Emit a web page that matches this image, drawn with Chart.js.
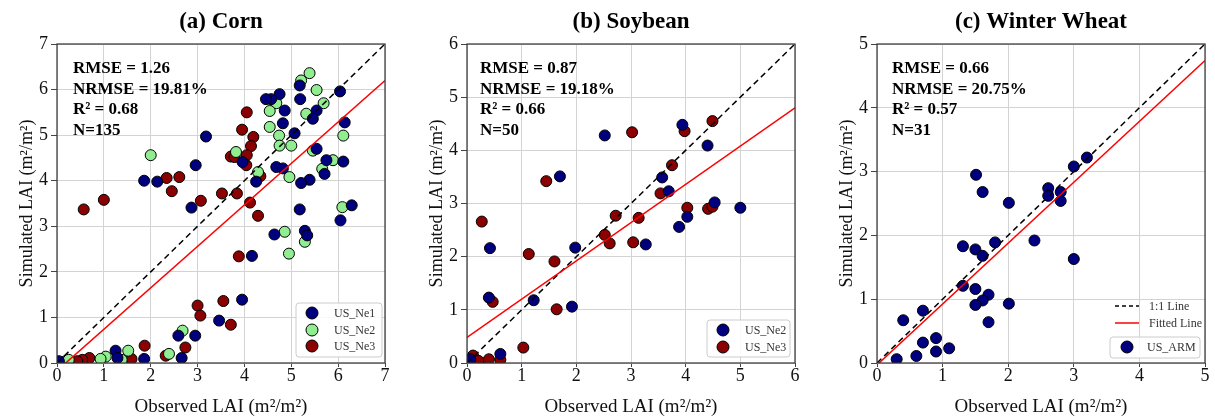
<!DOCTYPE html>
<html>
<head>
<meta charset="utf-8">
<script src="https://cdn.jsdelivr.net/npm/chart.js@4.4.0/dist/chart.umd.min.js"></script>
<style>
  body { margin: 0; background: #fff; width: 1215px; height: 419px; overflow: hidden; position: relative; }
  canvas { position: absolute; top: 0; }
</style>
</head>
<body>
<canvas id="cornChart" width="405" height="419" style="left:0px"></canvas>
<canvas id="soyChart" width="405" height="419" style="left:405px"></canvas>
<canvas id="wheatChart" width="405" height="419" style="left:810px"></canvas>
<script>
// observed / simulated LAI pairs, [obs, sim]
const cornNe1 = [[4.75,5.90],[4.57,5.79],[4.46,5.79],[5.18,6.09],[5.19,5.79],[6.04,5.96],[4.86,5.54],[5.54,5.54],
  [5.46,5.36],[4.82,5.26],[5.07,5.04],[6.14,5.28],[3.18,4.97],[2.96,4.34],[1.86,4.0],[2.14,3.98],[4.68,4.30],
  [4.82,4.27],[5.54,4.70],[5.75,4.45],[5.71,4.15],[6.11,4.42],[5.39,4.02],[5.21,3.95],[4.25,3.98],[2.87,3.41],
  [6.29,3.46],[5.18,3.37],[3.96,4.41],[6.05,3.13],[4.64,2.82],[5.29,2.90],[5.34,2.80],[4.16,2.35],[3.95,1.39],
  [3.46,0.93],[2.59,0.60],[2.95,0.60],[2.66,0.11],[1.86,0.09],[1.25,0.27],[1.29,0.11],[0.04,0.04]];
const cornNe2 = [[5.39,6.36],[5.21,6.20],[5.54,5.99],[4.68,5.70],[4.54,5.53],[5.69,5.70],[5.32,5.47],[4.54,5.18],
  [4.74,4.99],[4.75,4.77],[5.0,4.77],[6.11,4.99],[5.46,4.66],[5.89,4.45],[5.66,4.26],[4.96,4.08],[4.29,4.19],
  [3.82,4.63],[2.0,4.56],[6.09,3.42],[4.86,2.88],[5.29,2.66],[4.95,2.40],[2.68,0.71],[2.39,0.20],[1.52,0.27],
  [1.38,0.07],[1.04,0.14],[0.93,0.09],[0.25,0.07]];
const cornNe3 = [[4.05,5.50],[3.95,5.12],[4.19,4.96],[4.14,4.76],[4.05,4.56],[3.71,4.53],[3.79,4.52],[4.04,4.34],
  [4.34,4.10],[2.34,4.06],[2.61,4.08],[2.45,3.77],[1.0,3.58],[0.57,3.37],[3.07,3.56],[3.52,3.72],[3.84,3.72],
  [4.12,3.52],[4.29,3.23],[3.88,2.34],[3.55,1.36],[3.0,1.26],[3.06,1.04],[3.71,0.84],[2.74,0.34],[2.32,0.16],
  [1.87,0.38],[1.59,0.09],[0.69,0.11],[0.54,0.07],[0.43,0.04],[0.18,0.04]];

const soyNe2 = [[3.94,4.48],[2.52,4.28],[4.40,4.09],[1.70,3.51],[3.57,3.49],[3.69,3.23],[4.53,3.02],[5.0,2.92],
  [4.03,2.75],[3.88,2.56],[3.27,2.23],[0.42,2.16],[1.98,2.17],[1.22,1.18],[1.92,1.06],[0.40,1.23],[0.61,0.17],
  [0.06,0.07]];
const soyNe3 = [[4.49,4.55],[3.02,4.34],[3.98,4.36],[3.75,3.72],[1.45,3.42],[3.54,3.19],[4.03,2.92],[4.41,2.90],
  [4.49,2.94],[0.27,2.66],[2.72,2.77],[3.14,2.73],[2.52,2.41],[2.61,2.25],[3.04,2.27],[1.13,2.05],[1.60,1.91],
  [1.64,1.01],[0.47,1.15],[1.03,0.29],[0.11,0.14],[0.21,0.04],[0.40,0.07],[0.61,0.06]];

const wheatArm = [[3.20,3.22],[3.0,3.08],[1.51,2.95],[1.61,2.68],[2.61,2.74],[2.61,2.62],[2.80,2.68],[2.80,2.54],
  [2.01,2.51],[1.31,1.83],[1.50,1.78],[1.61,1.68],[1.80,1.89],[2.40,1.92],[3.0,1.63],[1.31,1.21],[1.50,1.16],
  [1.70,1.07],[1.61,0.98],[1.50,0.91],[2.01,0.93],[1.70,0.64],[0.70,0.82],[0.40,0.67],[0.70,0.32],[0.90,0.39],
  [0.90,0.18],[1.10,0.23],[0.60,0.11],[0.30,0.06]];

// fitted line [slope, intercept]
const cornFit = [0.91, -0.17];
const soyFit = [0.72, 0.48];
const wheatFit = [0.954, -0.03];

const cornTicks = [0, 1, 2, 3, 4, 5, 6, 7];
const soyTicks = [0, 1, 2, 3, 4, 5, 6];
const wheatTicks = [0, 1, 2, 3, 4, 5];

const cornStats = ['RMSE = 1.26', 'NRMSE = 19.81%', 'R² = 0.68', 'N=135'];
const soyStats = ['RMSE = 0.87', 'NRMSE = 19.18%', 'R² = 0.66', 'N=50'];
const wheatStats = ['RMSE = 0.66', 'NRMSE = 20.75%', 'R² = 0.57', 'N=31'];

const SERIF = '"Liberation Serif", "Times New Roman", serif';
const NAVY = '#00007f', LGREEN = '#90ee90', DRED = '#8b0000';

const toPts = arr => arr.map(p => ({ x: p[0], y: p[1] }));

function pointSet(label, arr, color) {
    return {
        label: label, data: toPts(arr), backgroundColor: color, borderColor: '#000',
        borderWidth: 1, pointRadius: 5.5, order: 2
    };
}

function drawLegendBox(ctx, box, rows, framed) {
    if (framed) {
        ctx.save();
        ctx.fillStyle = 'rgba(255,255,255,0.85)';
        ctx.strokeStyle = '#cccccc';
        ctx.lineWidth = 1;
        ctx.beginPath();
        ctx.roundRect(box.x, box.y, box.w, box.h, 3);
        ctx.fill();
        ctx.stroke();
        ctx.restore();
    }
    ctx.save();
    ctx.font = '12px ' + SERIF;
    ctx.textBaseline = 'middle';
    rows.forEach(r => {
        if (r.kind === 'point') {
            ctx.beginPath();
            ctx.arc(r.mx, r.y, 6, 0, Math.PI * 2);
            ctx.fillStyle = r.color;
            ctx.fill();
            ctx.strokeStyle = '#000';
            ctx.lineWidth = 1;
            ctx.stroke();
        } else {
            ctx.beginPath();
            ctx.setLineDash(r.kind === 'dash' ? [4, 3] : []);
            ctx.moveTo(r.mx - 12, r.y);
            ctx.lineTo(r.mx + 12, r.y);
            ctx.strokeStyle = r.color;
            ctx.lineWidth = 1.5;
            ctx.stroke();
            ctx.setLineDash([]);
        }
        ctx.fillStyle = '#333';
        ctx.fillText(r.label, r.tx, r.y + 1);
    });
    ctx.restore();
}

function makePanel(id, cfg) {
    const max = cfg.ticks[cfg.ticks.length - 1];
    const datasets = cfg.series.map(s => pointSet(s[0], s[1], s[2]));
    datasets.push({
        label: '1:1 Line', data: [{ x: 0, y: 0 }, { x: max, y: max }], showLine: true,
        borderColor: '#000', borderWidth: 1.5, borderDash: [6, 4], pointRadius: 0, order: 1
    });
    datasets.push({
        label: 'Fitted Line', data: [{ x: 0, y: cfg.fit[1] }, { x: max, y: cfg.fit[0] * max + cfg.fit[1] }],
        showLine: true, borderColor: '#ff0000', borderWidth: 1.5, pointRadius: 0, order: 0
    });

    const decor = {
        id: 'decor',
        afterDraw(chart) {
            const ctx = chart.ctx, a = chart.chartArea;
            ctx.save();
            ctx.strokeStyle = '#333';
            ctx.lineWidth = 1.2;
            ctx.strokeRect(a.left, a.top, a.right - a.left, a.bottom - a.top);
            // title
            ctx.fillStyle = '#000';
            ctx.font = 'bold 23px ' + SERIF;
            ctx.textAlign = 'center';
            ctx.textBaseline = 'middle';
            ctx.fillText(cfg.title, (a.left + a.right) / 2, 22);
            // stats
            ctx.textAlign = 'left';
            ctx.font = 'bold 17px ' + SERIF;
            cfg.stats.forEach((s, i) => ctx.fillText(s, a.left + cfg.statX, 69 + i * 20.5));
            ctx.restore();
            cfg.legend(ctx, a, chart);
        }
    };

    new Chart(document.getElementById(id), {
        type: 'scatter',
        data: { datasets: datasets },
        options: {
            responsive: false,
            animation: false,
            devicePixelRatio: 1,
            events: [],
            layout: { padding: { left: 0, right: cfg.padRight, top: 44, bottom: 0 } },
            plugins: { legend: { display: false }, tooltip: { enabled: false }, title: { display: false } },
            scales: {
                x: {
                    type: 'linear', min: 0, max: max,
                    afterBuildTicks: s => { s.ticks = cfg.ticks.map(v => ({ value: v })); },
                    afterFit: s => { s.height = 56; },
                    grid: { color: '#d3d3d3', lineWidth: 1, tickColor: '#444', tickLength: 4 },
                    border: { display: false },
                    ticks: { color: '#111', padding: 0, font: { family: SERIF, size: 18, lineHeight: 1 } },
                    title: {
                        display: true, text: 'Observed LAI (m²/m²)', color: '#111',
                        font: { family: SERIF, size: 19 }, padding: { top: 0, bottom: 1 }
                    }
                },
                y: {
                    type: 'linear', min: 0, max: max,
                    afterBuildTicks: s => { s.ticks = cfg.ticks.map(v => ({ value: v })); },
                    afterFit: s => { s.width = cfg.left; },
                    grid: { color: '#d3d3d3', lineWidth: 1, tickColor: '#444', tickLength: 6 },
                    border: { display: false },
                    ticks: { color: '#111', padding: 3, font: { family: SERIF, size: 18, lineHeight: 1 } },
                    title: {
                        display: true, text: 'Simulated LAI (m²/m²)', color: '#111',
                        font: { family: SERIF, size: 18 }, padding: { top: cfg.left - 41, bottom: 0 }
                    }
                }
            }
        },
        plugins: [decor]
    });
}

makePanel('cornChart', {
    title: '(a) Corn', ticks: cornTicks, fit: cornFit, stats: cornStats, statX: 16,
    left: 57, padRight: 20,
    series: [['US_Ne1', cornNe1, NAVY], ['US_Ne2', cornNe2, LGREEN], ['US_Ne3', cornNe3, DRED]],
    legend: (ctx, a) => {
        const bx = a.right - 89, by = a.bottom - 60;
        drawLegendBox(ctx, { x: bx, y: by, w: 86, h: 54 }, [
            { kind: 'point', color: NAVY, label: 'US_Ne1', mx: bx + 16, tx: bx + 38, y: by + 10 },
            { kind: 'point', color: LGREEN, label: 'US_Ne2', mx: bx + 16, tx: bx + 38, y: by + 27 },
            { kind: 'point', color: DRED, label: 'US_Ne3', mx: bx + 16, tx: bx + 38, y: by + 43 }
        ], true);
    }
});

makePanel('soyChart', {
    title: '(b) Soybean', ticks: soyTicks, fit: soyFit, stats: soyStats, statX: 13,
    left: 62, padRight: 15,
    series: [['US_Ne2', soyNe2, NAVY], ['US_Ne3', soyNe3, DRED]],
    legend: (ctx, a) => {
        const bx = a.right - 88, by = a.bottom - 43;
        drawLegendBox(ctx, { x: bx, y: by, w: 83, h: 37 }, [
            { kind: 'point', color: NAVY, label: 'US_Ne2', mx: bx + 16, tx: bx + 38, y: by + 10 },
            { kind: 'point', color: DRED, label: 'US_Ne3', mx: bx + 16, tx: bx + 38, y: by + 27 }
        ], true);
    }
});

makePanel('wheatChart', {
    title: '(c) Winter Wheat', ticks: wheatTicks, fit: wheatFit, stats: wheatStats, statX: 15,
    left: 67, padRight: 10,
    series: [['US_ARM', wheatArm, NAVY]],
    legend: (ctx, a) => {
        const lx = a.right - 90;
        drawLegendBox(ctx, null, [
            { kind: 'dash', color: '#000', label: '1:1 Line', mx: lx + 12, tx: lx + 34, y: a.bottom - 57 },
            { kind: 'line', color: '#ff0000', label: 'Fitted Line', mx: lx + 12, tx: lx + 34, y: a.bottom - 40 }
        ], false);
        const bx = a.right - 95, by = a.bottom - 26;
        drawLegendBox(ctx, { x: bx, y: by, w: 90, h: 21 }, [
            { kind: 'point', color: NAVY, label: 'US_ARM', mx: bx + 17, tx: bx + 37, y: by + 10 }
        ], true);
    }
});
</script>
</body>
</html>
